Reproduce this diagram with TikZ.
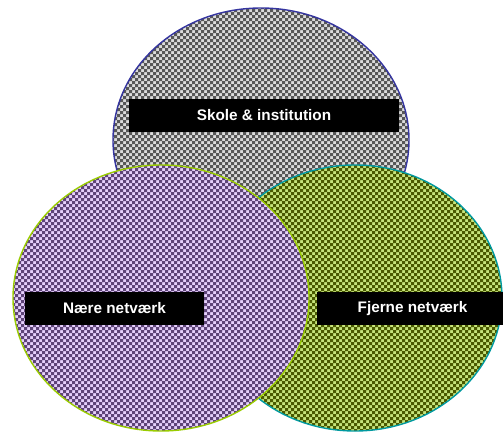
\documentclass[tikz,border=0pt]{standalone}
\usepackage{fontspec}
\setmainfont{Liberation Sans}
\definecolor{grayL}{HTML}{DCDCDC}
\definecolor{grayD}{HTML}{575757}
\definecolor{grayE}{HTML}{3535A0}
\definecolor{purL}{HTML}{E6D0FC}
\definecolor{purD}{HTML}{5E4478}
\definecolor{purE}{HTML}{99CC00}
\definecolor{grnL}{HTML}{C6E47C}
\definecolor{grnD}{HTML}{4A5A00}
\definecolor{grnE}{HTML}{0099A0}
\tikzset{
  label box/.style={fill=black, text=white, font=\bfseries\fontsize{15.3}{18}\selectfont,
    inner sep=0pt, minimum height=33pt, anchor=center},
  circ/.style={line width=1.4pt},
  checker/.style={even odd rule, insert path={
    \foreach \x in {0,6,...,504} {(\x,0) rectangle ++(3,431)}
    \foreach \y in {0,6,...,432} {(0,\y) rectangle ++(503,3)}}}
}
\begin{document}
\begin{tikzpicture}[x=1pt,y=-1pt]
\useasboundingbox (0,0) rectangle (503,431);
\clip (0,0) rectangle (503,431);
% top ellipse
\begin{scope}
\clip (261,140) ellipse [x radius=148, y radius=132];
\fill[grayL] (0,0) rectangle (503,431);
\fill[grayD, checker];
\end{scope}
\draw[circ, grayE] (261,140) ellipse [x radius=148, y radius=132];
% right ellipse
\begin{scope}
\clip (355,298) ellipse [x radius=147, y radius=133];
\fill[grnL] (0,0) rectangle (503,431);
\fill[grnD, checker];
\end{scope}
\draw[circ, grnE] (355,298) ellipse [x radius=147, y radius=133];
% left ellipse
\begin{scope}
\clip (161,298) ellipse [x radius=148, y radius=133];
\fill[purL] (0,0) rectangle (503,431);
\fill[purD, checker];
\end{scope}
\draw[circ, purE] (161,298) ellipse [x radius=148, y radius=133];
% labels
\node[label box, minimum width=270pt] (skole) at (264,115.5) {Skole \& institution};
\node[label box, minimum width=179pt] (naere) at (114.5,308.5) {Nære netværk};
\node[label box, minimum width=191pt] (fjerne) at (412.5,308.5) {Fjerne netværk};
\end{tikzpicture}
\end{document}
